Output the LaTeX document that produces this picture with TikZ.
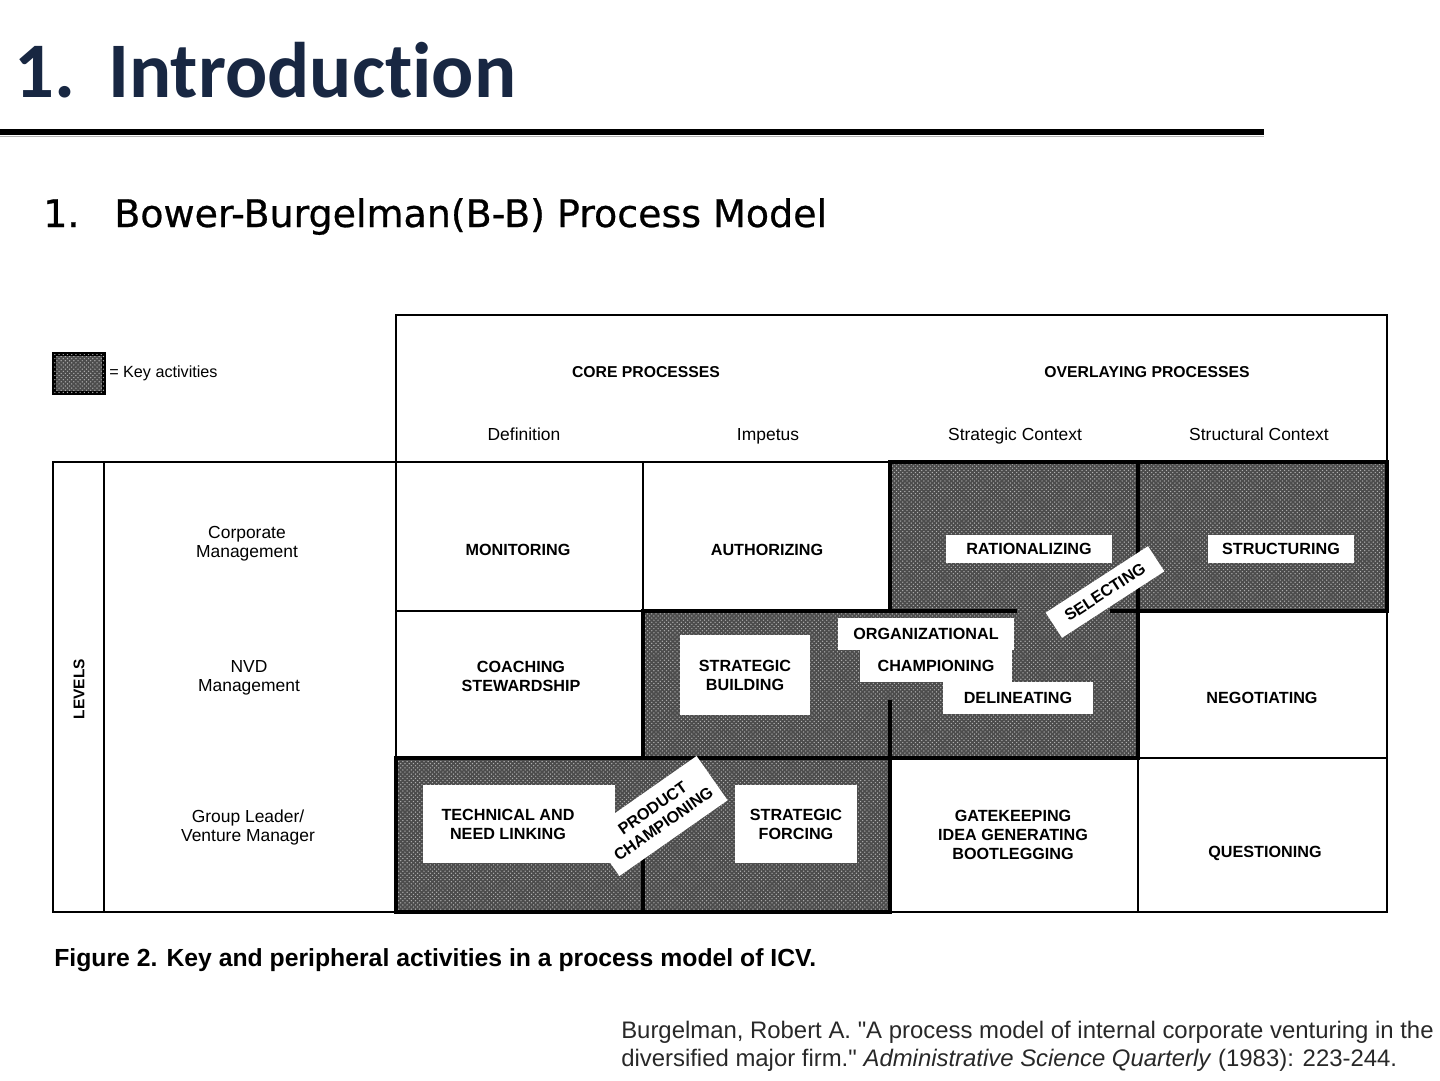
\documentclass[tikz,border=0pt]{standalone}
\usepackage{fontspec}
\setmainfont{Liberation Sans}
\newfontfamily\headfont[Ligatures=NoCommon]{Carlito}
\newfontfamily\subfont[FakeBold=0.7]{DejaVu Sans}
\newfontfamily\citefont{Liberation Sans}
\usetikzlibrary{positioning,patterns}
\definecolor{titleblue}{RGB}{24,39,66}
\definecolor{citegray}{RGB}{40,40,40}
\tikzset{grid/.style={line width=1.6pt}}
\tikzset{heavy/.style={line width=3.4pt}}
\tikzset{keyfill/.style={fill=black!70,postaction={pattern=crosshatch dots,pattern color=black!30}}}
\tikzset{caplabel/.style={font=\fontsize{11.5}{13.5}\selectfont\bfseries,align=center}}
\tikzset{sublabel/.style={font=\fontsize{12.4}{13.5}\selectfont,align=center,anchor=base}}
\tikzset{whitebox/.style={caplabel,fill=white,inner sep=0pt}}

\begin{document}
\begin{tikzpicture}[x=0.025cm,y=-0.025cm]
  \useasboundingbox (0,0) rectangle (1440,1080);
  % heading
  \node[anchor=base west,inner sep=0pt,text=titleblue,font=\headfont\bfseries\fontsize{56}{56}\selectfont] (titlenum) at (14,97) {1.};
  \node[anchor=base west,inner sep=0pt,text=titleblue,font=\headfont\bfseries\fontsize{56}{56}\selectfont] (title) at (108,97) {Introduction};
  \draw[black!30,line width=1.4pt] (0,136.5) -- (1264,136.5);
  \draw[line width=3.6pt] (0,132) -- (1264,132);
  \node[anchor=base west,inner sep=0pt,font=\subfont\fontsize{27}{27}\selectfont] (subnum) at (43,227) {1.};
  \node[anchor=base west,inner sep=0pt,font=\subfont\fontsize{27}{27}\selectfont] (subtitle) at (114,227) {Bower-Burgelman(B-B) Process Model};

  % table lines
  \draw[grid] (396,462) -- (396,315) -- (1387,315) -- (1387,462);
  \draw[grid] (53,462) rectangle (1387,912);
  \draw[grid] (104,462) -- (104,912);
  \foreach \x in {396,643,890,1138}
    \draw[grid] (\x,462) -- (\x,912);
  \foreach \y in {611,758}
    \draw[grid] (396,\y) -- (1387,\y);

  % key activities
  \fill[keyfill] (890,462) rectangle (1387,611);
  \fill[keyfill] (643,611) rectangle (1138,758);
  \fill[keyfill] (396,758) rectangle (890,912);
  \draw[heavy,line join=miter] (396,758) -- (396,912) -- (890,912) -- (890,758) -- (1138,758)
    -- (1138,611) -- (1387,611) -- (1387,462) -- (890,462) -- (890,611) -- (643,611) -- (643,758) -- cycle;
  \draw[heavy] (643,758) -- (890,758);
  \draw[heavy] (1138,462) -- (1138,611);
  \draw[heavy] (890,611) -- (1017,611);
  \draw[heavy] (1110,611) -- (1138,611);
  \draw[heavy] (890,700) -- (890,758);
  \draw[heavy] (643,850) -- (643,912);

  % legend
  \filldraw[keyfill,draw=black,line width=2.4pt] (54,354) rectangle (104,393);
  \node[anchor=west,inner sep=0pt,font=\fontsize{11.5}{13}\selectfont] (legend) at (109,373) {= Key activities};

  % headers
  \node[caplabel,anchor=base,font=\fontsize{11.2}{13}\selectfont\bfseries] (core) at (646,377) {CORE PROCESSES};
  \node[caplabel,anchor=base,font=\fontsize{11.2}{13}\selectfont\bfseries] (overlay) at (1147,377) {OVERLAYING PROCESSES};
  \node[sublabel] (defn) at (524,440) {Definition};
  \node[sublabel] (impetus) at (768,440) {Impetus};
  \node[sublabel] (stratctx) at (1015,440) {Strategic Context};
  \node[sublabel] (structctx) at (1259,440) {Structural Context};

  % levels
  \node[caplabel,font=\fontsize{11}{13}\selectfont\bfseries,rotate=90] (levels) at (79,689) {LEVELS};
  \node[sublabel,anchor=center] (corp) at (247,544) {Corporate\\Management};
  \node[sublabel,anchor=center] (nvd) at (249,678) {NVD\\Management};
  \node[sublabel,anchor=center] (group) at (248,827) {Group Leader/\\Venture Manager};

  % cells
  \node[caplabel] (monitor) at (518,550) {MONITORING};
  \node[caplabel] (authorize) at (767,550) {AUTHORIZING};
  \node[caplabel] (coach) at (521,676) {COACHING\\STEWARDSHIP};
  \node[caplabel] (negot) at (1262,698) {NEGOTIATING};
  \node[caplabel] (gate) at (1013,835) {GATEKEEPING\\IDEA GENERATING\\BOOTLEGGING};
  \node[caplabel] (question) at (1265,853) {QUESTIONING};

  \node[whitebox,minimum width=4.15cm,minimum height=0.72cm] (ration) at (1029,549) {RATIONALIZING};
  \node[whitebox,minimum width=3.67cm,minimum height=0.72cm] (struct) at (1281,549) {STRUCTURING};
  \node[whitebox,rotate=33,minimum width=3.05cm,minimum height=0.75cm] (select) at (1105,592) {SELECTING};
  \node[whitebox,minimum width=4.42cm,minimum height=0.78cm] (organ) at (926,634) {ORGANIZATIONAL};
  \node[whitebox,minimum width=3.8cm,minimum height=0.8cm] (champ) at (936,666) {CHAMPIONING};
  \node[whitebox,minimum width=3.75cm,minimum height=0.82cm] (delin) at (1018,698) {DELINEATING};
  \node[whitebox,minimum width=3.25cm,minimum height=2cm] (sbuild) at (745,675) {STRATEGIC\\BUILDING};
  \node[whitebox,minimum width=4.8cm,minimum height=1.95cm] (techbox) at (519,824) {};
  \node[caplabel] (techn) at (508,824) {TECHNICAL AND\\NEED LINKING};
  \node[whitebox,rotate=35,minimum width=3.3cm,minimum height=1.35cm] (product) at (658,816) {PRODUCT\\CHAMPIONING};
  \node[whitebox,minimum width=3.05cm,minimum height=1.95cm] (sforce) at (796,824) {STRATEGIC\\FORCING};

  % caption and source
  \node[anchor=base west,inner sep=0pt,font=\fontsize{17.6}{20}\selectfont\bfseries] (caption) at (54,966) {Figure 2. Key and peripheral activities in a process model of ICV.};
  \node[anchor=base west,inner sep=0pt,align=left,text=citegray,font=\citefont\fontsize{17}{19.9}\selectfont] (source) at (621,1066)
    {Burgelman, Robert A. "A process model of internal corporate venturing in the\\diversified major firm." \textit{Administrative Science Quarterly} (1983): 223-244.};
\end{tikzpicture}
\end{document}
